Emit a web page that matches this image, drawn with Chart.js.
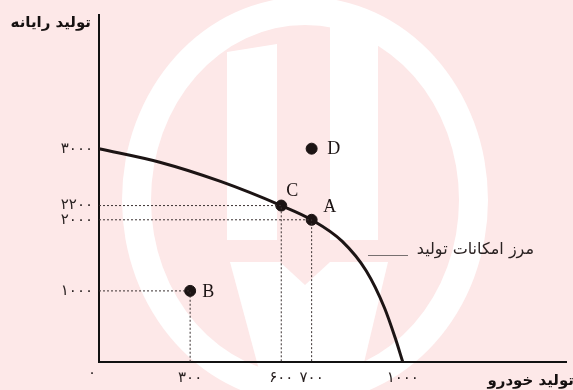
<!DOCTYPE html>
<html>
<head>
<meta charset="utf-8">
<script src="https://cdn.jsdelivr.net/npm/chart.js@4.4.1/dist/chart.umd.min.js"></script>
<style>
  html, body { margin: 0; padding: 0; background: #fde8e8; }
  #wrap { width: 573px; height: 390px; }
</style>
</head>
<body>
<div id="wrap"><canvas id="chart"></canvas></div>
<script>
// data
const xTicks = [300, 600, 700, 1000];
const yTicks = [1000, 2000, 2200, 3000];
const frontierX = [0, 200, 400, 600, 700, 800, 880, 940, 975, 1000];
const frontierY = [3000, 2810, 2540, 2200, 2000, 1700, 1280, 760, 340, 0];
const pointNames = ['A', 'B', 'C', 'D'];
const pointX = [700, 300, 600, 700];
const pointY = [2000, 1000, 2200, 3000];
const guided = ['A', 'B', 'C']; // points with dotted lines to the axes

const xTitle = 'تولید خودرو';
const yTitle = 'تولید رایانه';
const curveLabel = 'مرز امکانات تولید';

const faDigits = '۰۱۲۳۴۵۶۷۸۹';
const toFa = v => String(v).replace(/\d/g, d => faDigits[d]);

const ink = '#1c1414';
const bg = '#fde8e8';

const guideSets = guided.map(name => {
  const i = pointNames.indexOf(name);
  return {
    data: [{x: 0, y: pointY[i]}, {x: pointX[i], y: pointY[i]}, {x: pointX[i], y: 0}],
    showLine: true,
    borderColor: '#3a3030',
    borderWidth: 1,
    borderDash: [2, 2],
    pointRadius: 0,
    clip: false
  };
});

// faint logo behind the chart
const watermark = {
  id: 'watermark',
  beforeDraw(chart) {
    const ctx = chart.ctx;
    ctx.save();
    ctx.fillStyle = bg;
    ctx.fillRect(0, 0, chart.width, chart.height);
    ctx.fillStyle = '#ffffff';
    // ring
    ctx.beginPath();
    ctx.ellipse(305, 200, 183, 203, 0, 0, Math.PI * 2);
    ctx.ellipse(305, 200, 154, 175, 0, 0, Math.PI * 2, true);
    ctx.fill('evenodd');
    // columns
    ctx.beginPath();
    ctx.moveTo(227, 52); ctx.lineTo(277, 44); ctx.lineTo(277, 240); ctx.lineTo(227, 240);
    ctx.fill();
    ctx.fillRect(330, 20, 48, 220);
    // lower shape
    ctx.beginPath();
    ctx.moveTo(230, 262); ctx.lineTo(388, 262); ctx.lineTo(357, 392); ctx.lineTo(265, 392);
    ctx.fill();
    ctx.fillStyle = bg;
    ctx.beginPath();
    ctx.moveTo(280, 262); ctx.lineTo(330, 262); ctx.lineTo(305, 285);
    ctx.fill();
    ctx.restore();
  }
};

const annotations = {
  id: 'annotations',
  afterDatasetsDraw(chart) {
    const ctx = chart.ctx;
    const xs = chart.scales.x, ys = chart.scales.y;
    const off = {A: [18, -14], B: [18, 0], C: [11, -15], D: [22, 0]};
    ctx.save();
    ctx.fillStyle = ink;
    ctx.font = '18px "Liberation Serif", "DejaVu Serif", serif';
    ctx.textAlign = 'center';
    ctx.textBaseline = 'middle';
    pointNames.forEach((n, i) => {
      ctx.fillText(n, xs.getPixelForValue(pointX[i]) + off[n][0], ys.getPixelForValue(pointY[i]) + off[n][1] + 1);
    });

    // origin label
    ctx.font = '15px "DejaVu Sans", sans-serif';
    ctx.fillStyle = '#2a2222';
    ctx.fillText(toFa(0), xs.left - 7, ys.bottom + 11);

    // axis titles
    ctx.direction = 'rtl';
    ctx.textAlign = 'right';
    ctx.fillStyle = '#151010';
    ctx.font = 'bold 15px "DejaVu Sans", sans-serif';
    ctx.fillText(yTitle, 91, 23);
    ctx.fillText(xTitle, 574, 381);

    // frontier label with leader line
    ctx.font = '16px "DejaVu Sans", sans-serif';
    ctx.fillStyle = '#2a2222';
    ctx.fillText(curveLabel, 534, 250);
    ctx.strokeStyle = '#777070';
    ctx.lineWidth = 1;
    ctx.beginPath();
    ctx.moveTo(368, 255.5); ctx.lineTo(408, 255.5);
    ctx.stroke();
    ctx.restore();
  }
};

new Chart(document.getElementById('chart'), {
  type: 'scatter',
  data: {
    datasets: [
      ...guideSets,
      {
        data: frontierX.map((x, i) => ({x, y: frontierY[i]})),
        showLine: true,
        borderColor: ink,
        borderWidth: 3,
        pointRadius: 0,
        cubicInterpolationMode: 'monotone',
        clip: false
      },
      {
        data: pointX.map((x, i) => ({x, y: pointY[i]})),
        pointRadius: 5.5,
        pointBackgroundColor: ink,
        pointBorderColor: ink,
        clip: false
      }
    ]
  },
  options: {
    responsive: true,
    maintainAspectRatio: false,
    animation: false,
    layout: { padding: { top: 14, left: 0, right: 0, bottom: 0 } },
    plugins: { legend: { display: false }, tooltip: { enabled: false } },
    scales: {
      x: {
        type: 'linear',
        min: 0,
        max: 1539,
        afterBuildTicks: s => { s.ticks = xTicks.map(v => ({value: v})); },
        afterFit: s => { s.height = 28; },
        grid: { display: false, drawTicks: false },
        border: { color: '#111', width: 2 },
        ticks: {
          padding: 7,
          color: '#2a2222',
          font: { family: 'DejaVu Sans', size: 15 },
          callback: v => toFa(v),
          maxRotation: 0,
          autoSkip: false
        }
      },
      y: {
        type: 'linear',
        min: 0,
        max: 4880,
        afterBuildTicks: s => { s.ticks = yTicks.map(v => ({value: v})); },
        afterFit: s => { s.width = 99; },
        grid: { display: false, drawTicks: false },
        border: { color: '#111', width: 2 },
        ticks: {
          padding: 6,
          color: '#2a2222',
          font: { family: 'DejaVu Sans', size: 15 },
          callback: v => toFa(v),
          autoSkip: false
        }
      }
    }
  },
  plugins: [watermark, annotations]
});
</script>
</body>
</html>
